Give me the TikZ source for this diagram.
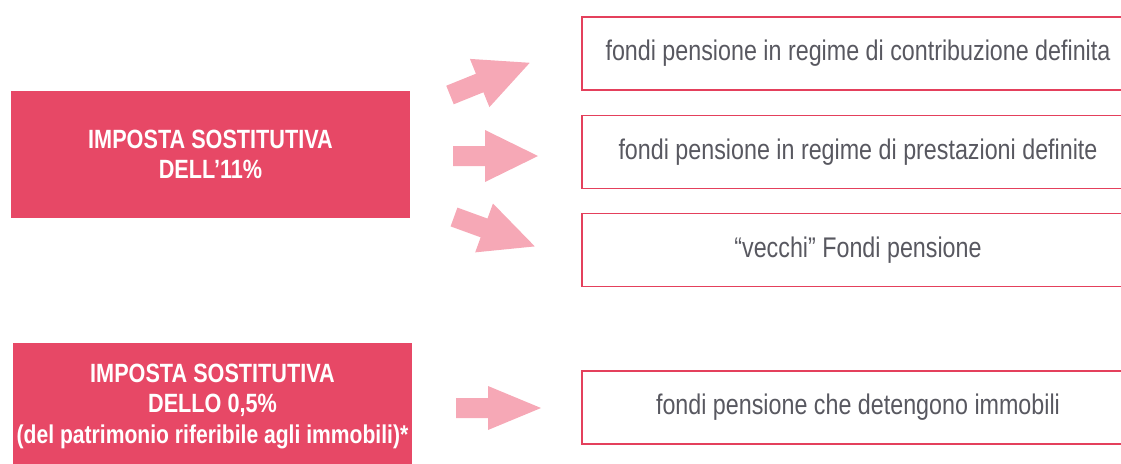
\documentclass[tikz,border=0pt]{standalone}
\usepackage{fontspec}
\setmainfont{Liberation Sans}[FakeStretch=0.82]
\usepackage{tikz}
\definecolor{taxred}{RGB}{231,72,102}
\definecolor{arrowpink}{RGB}{246,168,182}
\definecolor{boxline}{RGB}{228,64,92}
\definecolor{fundgrey}{RGB}{88,88,96}
\tikzset{
  taxbox/.style={fill=taxred, text=white, align=center, inner sep=0pt,
    font=\bfseries\fontsize{19.8}{23}\selectfont,
    minimum width=299.25pt, minimum height=95.25pt},
  fundbox/.style={draw=boxline, line width=1.3pt, text=fundgrey, inner sep=0pt,
    font=\fontsize{21.3}{24}\selectfont,
    minimum width=414pt, minimum height=54.75pt},
  fatarrow/.style={fill=arrowpink}
}
\begin{document}
\begin{tikzpicture}[x=0.75pt,y=0.75pt,yscale=-1,xscale=1]
			\useasboundingbox (0,0) rectangle (1121,464);
			\clip (0,0) rectangle (1121,464);
			% Tax boxes
			\node[taxbox] (imp11) at (210.5,154.5) {IMPOSTA SOSTITUTIVA\\DELL’11\%};
			\node[taxbox] (imp05) at (212.5,406.5) {IMPOSTA SOSTITUTIVA\\DELLO 0,5\%\\{\fontsize{19.3}{23}\selectfont(del patrimonio riferibile agli immobili)*}};
			% Fund boxes
			\node[fundbox] (contrib) at (858,53.5) {fondi pensione in regime di contribuzione definita};
			\node[fundbox] (prestaz) at (858,152) {fondi pensione in regime di prestazioni definite};
			\node[fundbox] (vecchi) at (858,250) {“vecchi” Fondi pensione};
			\node[fundbox] (immob) at (858,407.5) {fondi pensione che detengono immobili};
			%Shape: Right Arrow [up]
			\fill[fatarrow, shift={(450,95)}, rotate=-22] (0,-10) -- (32,-10) -- (32,-26) -- (86,0) -- (32,26) -- (32,10) -- (0,10) -- cycle ;
			%Shape: Right Arrow [straight]
			\fill[fatarrow, shift={(453,156)}] (0,-10) -- (32,-10) -- (32,-26) -- (85,0) -- (32,26) -- (32,10) -- (0,10) -- cycle ;
			%Shape: Right Arrow [down]
			\fill[fatarrow, shift={(454,217)}, rotate=20] (0,-10) -- (32,-10) -- (32,-26) -- (86,0) -- (32,26) -- (32,10) -- (0,10) -- cycle ;
			%Shape: Right Arrow [bottom]
			\fill[fatarrow, shift={(456,408)}] (0,-10) -- (32,-10) -- (32,-22) -- (85,0) -- (32,22) -- (32,10) -- (0,10) -- cycle ;
\end{tikzpicture}
\end{document}
